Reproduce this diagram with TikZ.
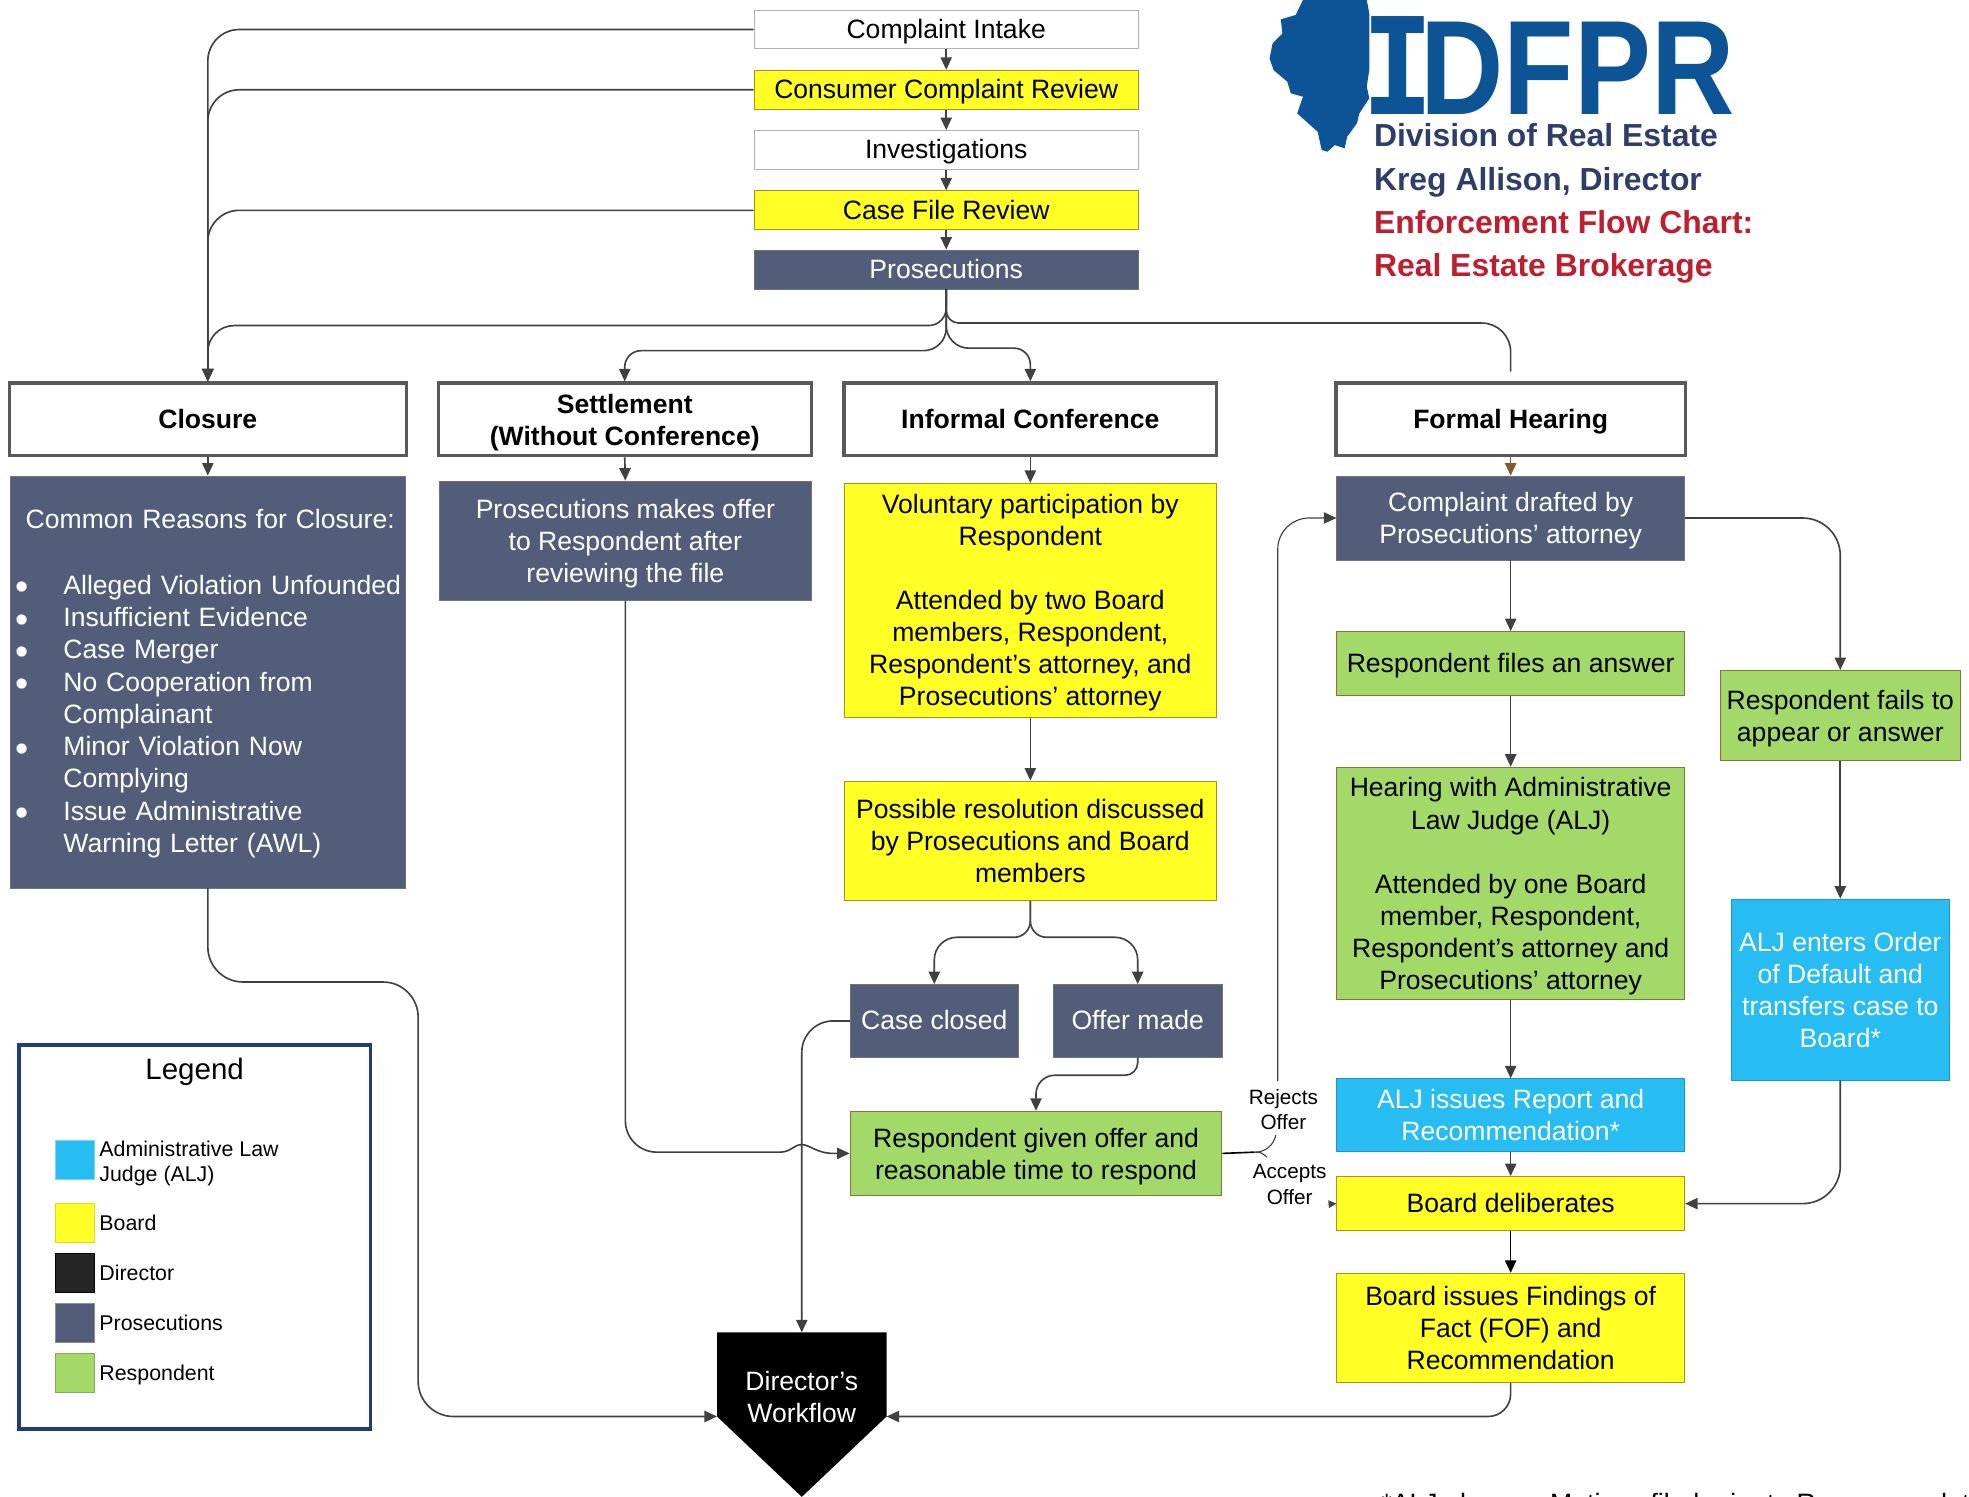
\documentclass[tikz,border=0pt]{standalone}
\usepackage{graphicx}
\usepackage{fontspec}
\setmainfont{Liberation Sans}
\newfontfamily\slabfont{DejaVu Sans Mono}
\usetikzlibrary{arrows.meta,calc}
\definecolor{prosblue}{HTML}{525E79}
\definecolor{boardyellow}{HTML}{FFFF26}
\definecolor{respgreen}{HTML}{A2D968}
\definecolor{aljblue}{HTML}{27BDF2}
\definecolor{logoblue}{HTML}{0D5496}
\definecolor{headnavy}{HTML}{2E3E69}
\definecolor{headred}{HTML}{BE1E2D}
\definecolor{legendblue}{HTML}{1F3D7A}
\definecolor{flowgray}{HTML}{404040}
\newcommand{\reasonmark}{\makebox[42.5pt][l]{\hspace*{4pt}\raisebox{-4.5pt}{\fontsize{30}{25.5}\selectfont\textbullet}}}

\begin{document}
\begin{tikzpicture}[x=1pt,y=-1pt,
	every node/.style={font=\fontsize{21.15}{25.5}\selectfont, inner sep=0pt, align=center,
		execute at begin node={\rule{0pt}{1.02em}}, execute at end node={\rule[-.357em]{0pt}{.357em}}},
	lines/.style={text depth=0pt},
	whitebox/.style={draw=black!30, line width=0.8pt, fill=white},
	boardbox/.style={draw=black!35!boardyellow!85!red, line width=0.8pt, fill=boardyellow},
	prosbox/.style={draw=black!55, line width=0.5pt, fill=prosblue, text=white},
	respbox/.style={draw=black!35!respgreen!85!red, line width=0.8pt, fill=respgreen},
	aljbox/.style={draw=aljblue!80!black, line width=0.6pt, fill=aljblue, text=white},
	phasebox/.style={draw=black!65, line width=2.6pt, fill=white, font=\fontsize{21.15}{25.5}\selectfont\bfseries},
	swatch/.style={minimum width=31pt, minimum height=31pt, line width=0.7pt},
	legendtext/.style={anchor=west, font=\fontsize{17}{20}\selectfont, align=left},
	headline/.style={anchor=west, font=\fontsize{25.4}{30}\selectfont\bfseries},
	smalllabel/.style={lines, font=\fontsize{16.5}{20.5}\selectfont},
	flowline/.style={draw=flowgray, line width=1.3pt},
	flowarrow/.style={flowline, -{Triangle[length=10pt,width=9pt]}}]

	\useasboundingbox (0,0) rectangle (1568,1192);

	% Logo
	\fill[logoblue] (1037.6,0) -- (1031.8,11.9) -- (1020,15.4) -- (1021.2,26.6) -- (1013.4,34.5) -- (1011,46.5) -- (1014.2,55.8) -- (1025.1,65) -- (1027.9,74.3) -- (1037.6,77) -- (1033,90.3) -- (1049.3,104.9) -- (1052.5,119.5) -- (1057.2,120.8) -- (1063,115.5) -- (1070.8,118.1) -- (1072.8,108.9) -- (1080.6,98.2) -- (1082.5,90.3) -- (1090.4,78.3) -- (1088.4,69) -- (1090.4,55.8) -- (1090.4,10.6) -- (1088.4,0) -- cycle;
	\node[anchor=base west, text=logoblue] (idfpr) at (1095,91) {\resizebox{286pt}{78pt}{\bfseries\kern-.12em{\slabfont\scalebox{1.05}[1]{I}}\kern-.12em DFPR}};
	\node[headline, text=headnavy] (division) at (1094,108) {Division of Real Estate};
	\node[headline, text=headnavy] (directorname) at (1094,143) {Kreg Allison, Director};
	\node[headline, text=headred] (charttitle) at (1094,177.5) {Enforcement Flow Chart:};
	\node[headline, text=headred] (chartsub) at (1094,211.5) {Real Estate Brokerage};

	% Intake
	\node[whitebox, minimum width=306pt, minimum height=31pt] (intake) at (753.5,23.5) {Complaint Intake};
	\node[boardbox, minimum width=306pt, minimum height=31pt] (review) at (753.5,71.5) {Consumer Complaint Review};
	\node[whitebox, minimum width=306pt, minimum height=31pt] (investigations) at (753.5,119.5) {Investigations};
	\node[boardbox, minimum width=306pt, minimum height=31pt] (casefile) at (753.5,167.5) {Case File Review};
	\node[prosbox, minimum width=306pt, minimum height=31pt] (prosecutions) at (753.5,214.5) {Prosecutions};

	% Phases
	\node[phasebox, minimum width=316pt, minimum height=58pt] (closure) at (165.5,334) {Closure};
	\node[phasebox, lines, minimum width=297pt, minimum height=58pt] (settlement) at (497.5,334) {Settlement\\(Without Conference)};
	\node[phasebox, minimum width=297pt, minimum height=58pt] (informal) at (820.5,334) {Informal Conference};
	\node[phasebox, minimum width=278pt, minimum height=58pt] (formal) at (1203,334) {Formal Hearing};
	\coordinate (formaltop) at (1203,296);

	% Closure
	\node[prosbox, minimum width=315pt, minimum height=328pt, text width=315pt, align=left, font=\fontsize{21.15}{25.7}\selectfont] (reasons) at (165.5,543) {%
		\hspace*{12.5pt}Common Reasons for Closure:\\[26.3pt]
		\reasonmark Alleged Violation Unfounded\\
		\reasonmark Insufficient Evidence\\
		\reasonmark Case Merger\\
		\reasonmark No Cooperation from\\
		\hspace*{42.5pt}Complainant\\
		\reasonmark Minor Violation Now\\
		\hspace*{42.5pt}Complying\\
		\reasonmark Issue Administrative\\
		\hspace*{42.5pt}Warning Letter (AWL)};

	% Settlement
	\node[prosbox, lines, minimum width=296pt, minimum height=95pt] (offer) at (498,430.5) {Prosecutions makes offer\\to Respondent after\\reviewing the file};

	% Informal conference
	\node[boardbox, lines, minimum width=296pt, minimum height=186pt] (voluntary) at (820.5,478) {Voluntary participation by\\Respondent\\[25.5pt]Attended by two Board\\members, Respondent,\\Respondent’s attorney, and\\Prosecutions’ attorney};
	\node[boardbox, lines, minimum width=296pt, minimum height=95pt] (resolution) at (820.5,669.5) {Possible resolution discussed\\by Prosecutions and Board\\members};
	\node[prosbox, minimum width=134pt, minimum height=58pt] (caseclosed) at (744,813) {Case closed};
	\node[prosbox, minimum width=134pt, minimum height=58pt] (offermade) at (906,813) {Offer made};
	\node[respbox, lines, minimum width=296pt, minimum height=67pt] (given) at (825,918.5) {Respondent given offer and\\reasonable time to respond};

	% Formal hearing
	\node[prosbox, lines, minimum width=277pt, minimum height=67pt] (drafted) at (1203,412.5) {Complaint drafted by\\Prosecutions’ attorney};
	\node[respbox, minimum width=277pt, minimum height=51pt] (answer) at (1203,528.5) {Respondent files an answer};
	\node[respbox, lines, minimum width=277pt, minimum height=185pt] (hearing) at (1203,703.5) {Hearing with Administrative\\Law Judge (ALJ)\\[25.5pt]Attended by one Board\\member, Respondent,\\Respondent’s attorney and\\Prosecutions’ attorney};
	\node[aljbox, lines, minimum width=277pt, minimum height=58pt] (report) at (1203,888) {ALJ issues Report and\\Recommendation*};
	\node[boardbox, minimum width=277pt, minimum height=43pt] (deliberates) at (1203,958.5) {Board deliberates};
	\node[boardbox, lines, minimum width=277pt, minimum height=87pt] (findings) at (1203,1057.5) {Board issues Findings of\\Fact (FOF) and\\Recommendation};
	\node[respbox, lines, minimum width=191pt, minimum height=72pt] (fails) at (1465.5,570) {Respondent fails to\\appear or answer};
	\node[aljbox, lines, minimum width=173pt, minimum height=144pt] (default) at (1465.5,788) {ALJ enters Order\\of Default and\\transfers case to\\Board*};

	% Director
	\coordinate (dirtop) at (638.5,1061);
	\coordinate (dirwest) at (571,1128);
	\coordinate (direast) at (706,1128);
	\fill[black] (571,1061) -- (706,1061) -- (direast) -- (638.5,1192) -- (dirwest) -- cycle;
	\node[lines, text=white] (director) at (638.5,1112.5) {Director’s\\Workflow};

	% Straight connectors
	\draw[flowarrow] (intake) -- (review);
	\draw[flowarrow] (review) -- (investigations);
	\draw[flowarrow] (investigations) -- (casefile);
	\draw[flowarrow] (casefile) -- (prosecutions);
	\draw[flowarrow] (closure.south) -- (reasons.north);
	\draw[flowarrow] (settlement.south) -- (offer.north);
	\draw[flowarrow] (informal.south) -- (voluntary.north);
	\draw[flowarrow] (voluntary.south) -- (resolution.north);
	\draw[flowarrow, draw=brown!70!black] (formal.south) -- (drafted.north);
	\draw[flowarrow] (drafted.south) -- (answer.north);
	\draw[flowarrow] (answer.south) -- (hearing.north);
	\draw[flowarrow] (hearing.south) -- (report.north);
	\draw[flowarrow] (report.south) -- (deliberates.north);
	\draw[flowarrow, draw=black] (deliberates.south) -- (findings.north);
	\draw[flowarrow] (fails.south) -- (default.north);

	% To closure
	\draw[flowarrow, rounded corners=25pt] (intake.west) -| (closure.north);
	\draw[flowarrow, rounded corners=25pt] (review.west) -| (closure.north);
	\draw[flowarrow, rounded corners=25pt] (casefile.west) -| (closure.north);

	% Fan out of prosecutions
	\draw[flowarrow, rounded corners=14pt] (prosecutions.south) -- ++(0,29) [rounded corners=21pt] -| (closure.north);
	\draw[flowarrow, rounded corners=18pt] (prosecutions.south) -- ++(0,49) [rounded corners=13pt] -| (settlement.north);
	\draw[flowarrow, rounded corners=18pt] (prosecutions.south) -- ++(0,47) [rounded corners=13pt] -| (informal.north);
	\draw[flowline, rounded corners=10pt] (prosecutions.south) -- ++(0,27) [rounded corners=23pt] -| (formaltop);

	% Out of informal conference
	\draw[flowarrow, rounded corners=13pt] (resolution.south) -- ++(0,29) [rounded corners=18pt] -| (caseclosed.north);
	\draw[flowarrow, rounded corners=13pt] (resolution.south) -- ++(0,29) [rounded corners=18pt] -| (offermade.north);
	\draw[flowarrow, rounded corners=10pt] (offermade.south) -- ++(0,14) [rounded corners=15pt] -| (given.north);
	\draw[flowarrow, rounded corners=25pt] (caseclosed.west) -| (dirtop);

	% Settlement offer hops over the line to the director
	\coordinate (hopstart) at (621,917.5);
	\coordinate (hoptop) at (638.5,911.5);
	\coordinate (hopend) at (664,918.5);
	\draw[flowline, rounded corners=25pt] (offer.south) |- (hopstart);
	\draw[flowarrow] (hopstart) .. controls (630,917.5) and (632,911.5) .. (hoptop) .. controls (645,911.5) and (650,918.5) .. (hopend) -- (given.west);

	% Rejects or accepts
	\coordinate (branch) at (999,917.5);
	\coordinate (rejectsfoot) at (1016,904);
	\coordinate (rejectshead) at (1017.5,861);
	\coordinate (acceptsfoot) at (1009,921.5);
	\coordinate (acceptsstub) at (1057,959);
	\draw[flowline, draw=black] (given.east) -- (branch);
	\draw[flowline, line width=0.9pt] (branch) .. controls (1008,917.5) and (1014,912) .. (rejectsfoot);
	\draw[flowline, line width=0.9pt] (branch) .. controls (1004,917.5) .. (acceptsfoot);
	\draw[flowarrow, line width=0.9pt, rounded corners=25pt] (rejectshead) |- (drafted.west);
	\draw[flowline, -{Triangle[length=6pt,width=6pt]}, line width=0.2pt] (acceptsstub) -- (deliberates.west);
	\node[smalllabel] (rejects) at (1022,883.5) {Rejects\\Offer};
	\node[smalllabel] (accepts) at (1027,943) {Accepts\\Offer};

	% Default path
	\draw[flowarrow, rounded corners=30pt] (drafted.east) -| (fails.north);
	\draw[flowarrow, rounded corners=30pt] (default.south) |- (deliberates.east);

	% To director
	\coordinate (closurebend) at (333,782);
	\draw[flowarrow, rounded corners=28pt] (reasons.south) |- (closurebend) |- (dirwest);
	\draw[flowarrow, rounded corners=18pt] (findings.south) |- (direast);

	% Legend
	\node[draw=legendblue, line width=3pt, minimum width=280pt, minimum height=306pt] (legend) at (155,985) {};
	\node[font=\fontsize{23.5}{28}\selectfont] (legendtitle) at (155,852) {Legend};
	\node[swatch, fill=aljblue, draw=aljblue!60!white] (swatchalj) at (59.5,924) {};
	\node[swatch, fill=boardyellow, draw=boardyellow!85!black] (swatchboard) at (59.5,973.5) {};
	\node[swatch, fill=black!85, draw=black] (swatchdirector) at (59.5,1013.5) {};
	\node[swatch, fill=prosblue, draw=prosblue!70!white] (swatchpros) at (59.5,1053.5) {};
	\node[swatch, fill=respgreen, draw=respgreen!80!black] (swatchresp) at (59.5,1093.5) {};
	\node[legendtext, lines] (textalj) at (79,925) {Administrative Law\\Judge (ALJ)};
	\node[legendtext] (textboard) at (79,974) {Board};
	\node[legendtext] (textdirector) at (79,1014) {Director};
	\node[legendtext] (textpros) at (79,1054) {Prosecutions};
	\node[legendtext] (textresp) at (79,1094) {Respondent};

	% Footnote, cut by the page edge
	\node[anchor=base west] (footnote) at (1100,1204.5) {*ALJ\hspace{12pt} hears\hspace{13pt} Motions filed prior to Recommendation};
\end{tikzpicture}
\end{document}
